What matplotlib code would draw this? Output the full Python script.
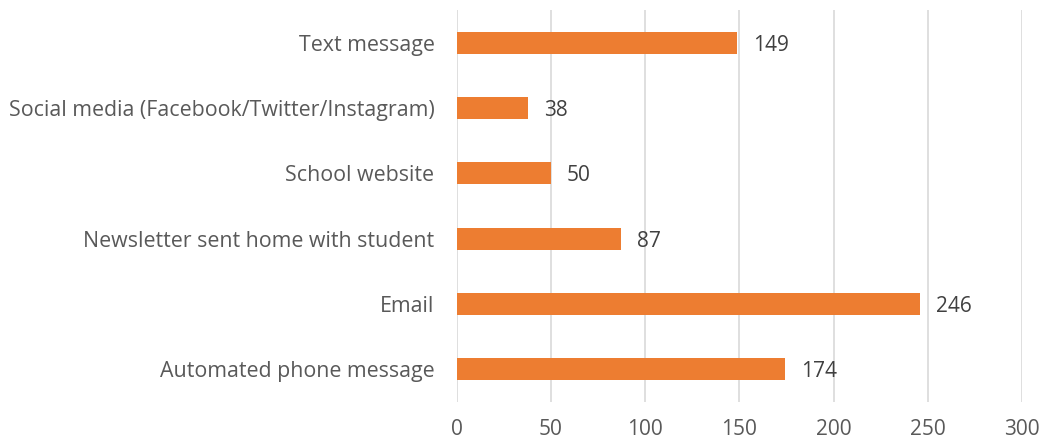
import matplotlib.pyplot as plt

# categories from bottom to top
categories = ['Automated phone message', 'Email', 'Newsletter sent home with student',
              'School website', 'Social media (Facebook/Twitter/Instagram)', 'Text message']
values = [174, 246, 87, 50, 38, 149]
xticks = [0, 50, 100, 150, 200, 250, 300]

plt.rcParams['font.family'] = ['Open Sans', 'DejaVu Sans']

fig = plt.figure(figsize=(10.45, 4.44), dpi=100)
ax = fig.add_axes([0.437, 0.0946, 0.541, 0.8829])

y = range(len(categories))
bars = ax.barh(y, values, height=0.34, color='#ED7D31', zorder=3)
ax.set_yticks(list(y))
ax.set_yticklabels(categories, fontsize=15.4, color='#595959')
ax.set_ylim(-0.5, len(categories) - 0.5)

ax.set_xlim(0, 300)
ax.set_xticks(xticks)
ax.set_xticklabels([str(t) for t in xticks], fontsize=15, color='#595959')
ax.grid(axis='x', color='#D9D9D9', linewidth=1.2, zorder=0)

for s in ax.spines.values():
    s.set_visible(False)
ax.tick_params(axis='both', length=0)
ax.tick_params(axis='x', pad=12)
ax.tick_params(axis='y', pad=16)

for rect, v in zip(bars, values):
    ax.annotate(str(v), (rect.get_width(), rect.get_y() + rect.get_height() / 2),
                xytext=(16, 0), textcoords='offset pixels', va='center_baseline', ha='left',
                fontsize=15, color='#404040')

plt.savefig('out.png', dpi=100)
